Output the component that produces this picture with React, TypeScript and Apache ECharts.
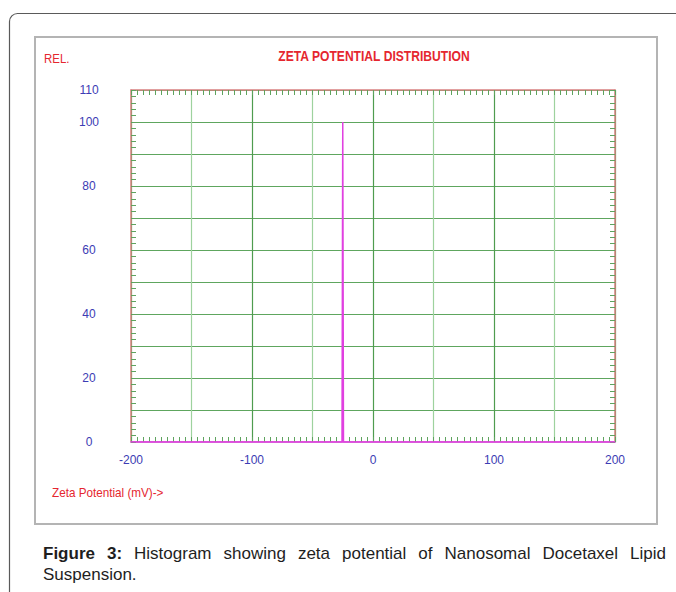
import React, { useEffect, useRef } from "react";
import * as echarts from "echarts";

// Data
const zetaPotential = [-200, -25.6, -25, -24.4, 200];
const relIntensity = [0, 0, 100, 0, 0];
const xTickLabels = [-200, -100, 0, 100, 200];
const yTickLabels = [0, 20, 40, 60, 80, 100, 110];

const chartTitle = "ZETA POTENTIAL DISTRIBUTION";
const yName = "REL.";
const xName = "Zeta Potential (mV)->";
const captionBold = ["Figure", "3:"];
const captionLine1 = ["Histogram", "showing", "zeta", "potential", "of", "Nanosomal", "Docetaxel", "Lipid"];
const captionLine2 = "Suspension.";

const NARROW = '"Liberation Sans Narrow", "Arial Narrow", "Liberation Sans", Arial, sans-serif';
const SANS = '"Liberation Sans", Arial, sans-serif';
const RED = "#e5262f";
const BLUE = "#3c3cb4";
const TICK_GREEN = "#5ea35e";
const CAP = 17;

export default function App() {
  const ref = useRef<HTMLDivElement>(null);

  useEffect(() => {
    if (!ref.current) return;
    const chart = echarts.init(ref.current, null, { renderer: "svg" });

    // justified caption line 1
    const canvas = document.createElement("canvas");
    const ctx = canvas.getContext("2d")!;
    const words: { t: string; bold: boolean; w: number }[] = [];
    captionBold.forEach((t) => {
      ctx.font = "bold " + CAP + "px " + SANS;
      words.push({ t, bold: true, w: ctx.measureText(t).width });
    });
    captionLine1.forEach((t) => {
      ctx.font = CAP + "px " + SANS;
      words.push({ t, bold: false, w: ctx.measureText(t).width });
    });
    const lineStart = 43;
    const lineEnd = 666;
    const total = words.reduce((s, w) => s + w.w, 0);
    const gap = (lineEnd - lineStart - total) / (words.length - 1);
    let cx = lineStart;
    const captionEls: any[] = words.map((w) => {
      const el = {
        type: "text",
        x: cx,
        y: 553,
        style: {
          text: w.t,
          font: (w.bold ? "bold " : "") + CAP + "px " + SANS,
          fill: "#1e1e1e",
          verticalAlign: "middle",
        },
      };
      cx += w.w + gap;
      return el;
    });
    captionEls.push({
      type: "text",
      x: lineStart,
      y: 574,
      style: {
        text: captionLine2,
        font: CAP + "px " + SANS,
        fill: "#1e1e1e",
        verticalAlign: "middle",
      },
    });

    const hiddenAxisCommon = {
      axisLabel: { show: false },
      splitLine: { show: false },
      axisTick: { show: true, inside: true, length: 5, lineStyle: { color: TICK_GREEN, width: 1 } },
    };

    chart.setOption({
      animation: false,
      backgroundColor: "#ffffff",
      grid: { left: 131, right: 61, top: 90, bottom: 150, containLabel: false },
      graphic: [
        {
          type: "rect",
          z: -10,
          shape: { x: 9.5, y: 13.5, width: 720, height: 640, r: 8 },
          style: { fill: "none", stroke: "#5a5a5a", lineWidth: 1.2 },
        },
        {
          type: "rect",
          z: -10,
          shape: { x: 35, y: 37, width: 622, height: 487 },
          style: { fill: "none", stroke: "#b4b4b4", lineWidth: 2 },
        },
        {
          type: "text",
          x: 374,
          y: 56,
          scaleX: 0.865,
          style: {
            text: chartTitle,
            font: "bold 14px " + NARROW,
            fill: RED,
            align: "center",
            verticalAlign: "middle",
          },
        },
        {
          type: "text",
          x: 44,
          y: 59,
          scaleX: 0.88,
          style: { text: yName, font: "13px " + NARROW, fill: RED, verticalAlign: "middle" },
        },
        {
          type: "text",
          x: 52,
          y: 493,
          scaleX: 0.9,
          style: { text: xName, font: "13px " + NARROW, fill: RED, verticalAlign: "middle" },
        },
        ...captionEls,
      ],
      xAxis: [
        {
          type: "value",
          position: "bottom",
          min: -200,
          max: 200,
          interval: 50,
          axisLine: { show: true, onZero: false, lineStyle: { color: "#d878d8", width: 2 } },
          axisTick: { show: true, inside: true, length: 5, lineStyle: { color: TICK_GREEN, width: 1 } },
          minorTick: { show: true, splitNumber: 10, length: 5, lineStyle: { color: TICK_GREEN, width: 1 } },
          splitLine: { show: true, lineStyle: { color: ["#4f9c4f", "#9ed29e"], width: 1.2 } },
          axisLabel: {
            margin: 12,
            color: BLUE,
            fontFamily: NARROW,
            fontSize: 12,
            formatter: (v: number) => (xTickLabels.indexOf(v) >= 0 ? String(v) : ""),
          },
        },
        {
          type: "value",
          position: "top",
          min: -200,
          max: 200,
          interval: 50,
          axisLine: { show: true, onZero: false, lineStyle: { color: "#d88080", width: 1.5 } },
          ...hiddenAxisCommon,
          minorTick: { show: true, splitNumber: 10, length: 5, lineStyle: { color: TICK_GREEN, width: 1 } },
        },
      ],
      yAxis: [
        {
          type: "value",
          position: "left",
          min: 0,
          max: 110,
          interval: 10,
          axisLine: { show: true, onZero: false, lineStyle: { color: "#d88080", width: 1.5 } },
          axisTick: { show: true, inside: true, length: 5, lineStyle: { color: TICK_GREEN, width: 1 } },
          minorTick: { show: true, splitNumber: 5, length: 5, lineStyle: { color: TICK_GREEN, width: 1 } },
          splitLine: { show: true, lineStyle: { color: "#5ea65e", width: 1.2 } },
          axisLabel: {
            margin: 42,
            align: "center",
            color: BLUE,
            fontFamily: NARROW,
            fontSize: 12,
            formatter: (v: number) => (yTickLabels.indexOf(v) >= 0 ? String(v) : ""),
          },
        },
        {
          type: "value",
          position: "right",
          min: 0,
          max: 110,
          interval: 10,
          axisLine: { show: true, onZero: false, lineStyle: { color: "#d88080", width: 1.5 } },
          ...hiddenAxisCommon,
          minorTick: { show: true, splitNumber: 5, length: 5, lineStyle: { color: TICK_GREEN, width: 1 } },
        },
      ],
      series: [
        {
          type: "line",
          xAxisIndex: 0,
          yAxisIndex: 0,
          data: zetaPotential.map((x, i) => [x, relIntensity[i]]),
          symbol: "none",
          z: 5,
          lineStyle: { color: "#e040e0", width: 1.5 },
        },
      ],
    });

    return () => chart.dispose();
  }, []);

  return (
    <div
      ref={ref}
      style={{ position: "absolute", left: 0, top: 0, width: 676, height: 592 }}
    />
  );
}
